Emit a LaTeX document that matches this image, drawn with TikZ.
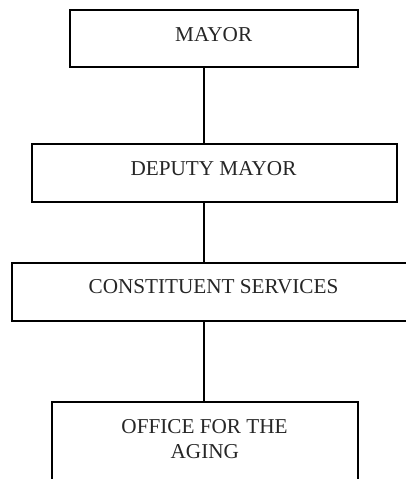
\documentclass[tikz,border=0pt]{standalone}
\usepackage{fontspec}
\setmainfont{Liberation Serif}
\begin{document}
\begin{tikzpicture}[x=1pt,y=-1pt,
  orgbox/.style={draw=black,line width=1.3pt,rectangle,inner sep=0pt},
  lbl/.style={anchor=base,inner sep=0pt,font=\fontsize{21.2}{25}\selectfont,text=black!85},
  link/.style={draw=black,line width=1.3pt}]
\useasboundingbox (0,0) rectangle (406,479);
\clip (0,0) rectangle (406,479);
\fill[white] (0,0) rectangle (406,479);
\node[orgbox,minimum width=288pt,minimum height=57pt] (mayor) at (214,38.5) {};
\node[orgbox,minimum width=365pt,minimum height=58pt] (deputy) at (214.5,173) {};
\node[orgbox,minimum width=408pt,minimum height=58pt] (const) at (216,292) {};
\node[orgbox,minimum width=306pt,minimum height=90pt] (office) at (205,447) {};
\node[lbl] (tmayor) at (213.7,41.7) {MAYOR};
\node[lbl] (tdeputy) at (213.5,175.7) {DEPUTY MAYOR};
\node[lbl] (tconst) at (213.5,293.3) {CONSTITUENT SERVICES};
\node[lbl] (toffice1) at (204.5,433.3) {OFFICE FOR THE};
\node[lbl] (toffice2) at (204.8,458.3) {AGING};
\coordinate (axis) at (204,0);
\draw[link] (mayor.south -| axis) -- (deputy.north -| axis);
\draw[link] (deputy.south -| axis) -- (const.north -| axis);
\draw[link] (const.south -| axis) -- (office.north -| axis);
\end{tikzpicture}
\end{document}
